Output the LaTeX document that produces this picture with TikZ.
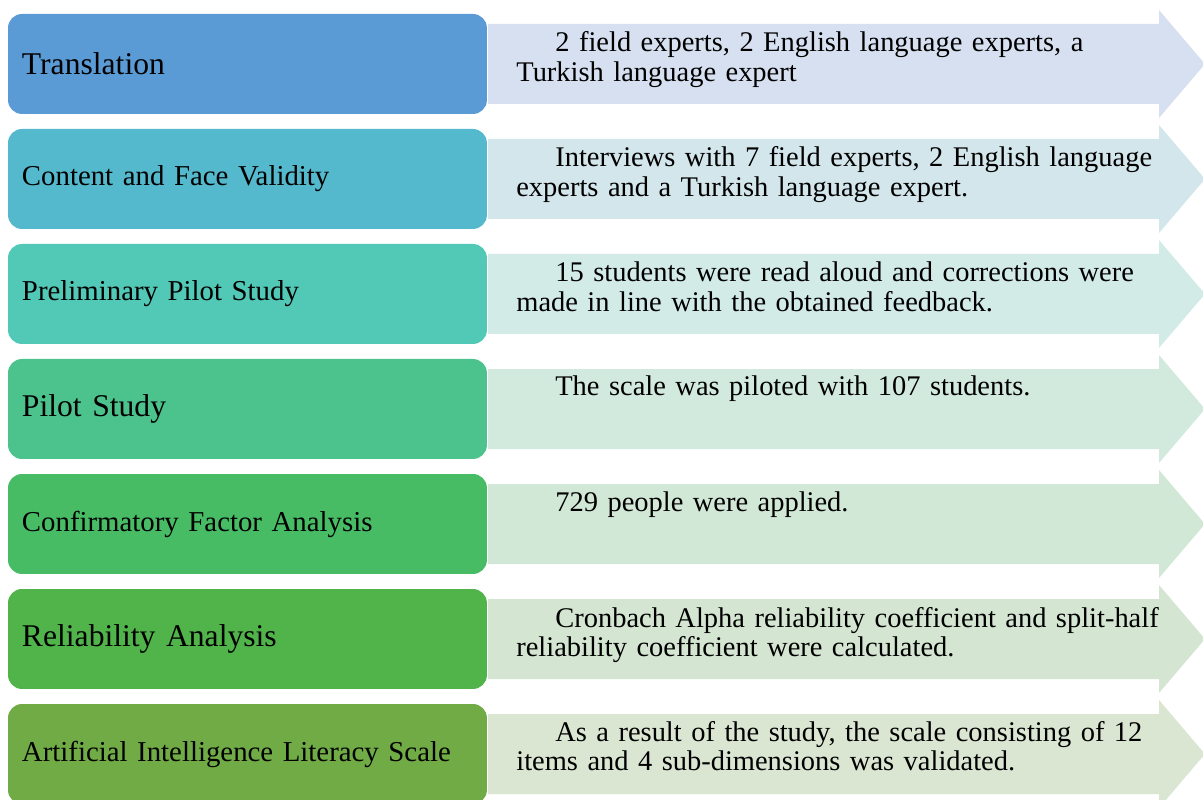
\documentclass[tikz,border=0pt]{standalone}
\usepackage{fontspec}
\setmainfont{Liberation Serif}
\definecolor{boxA}{RGB}{91,155,213}
\definecolor{boxB}{RGB}{84,185,205}
\definecolor{boxC}{RGB}{82,200,183}
\definecolor{boxD}{RGB}{76,195,140}
\definecolor{boxE}{RGB}{72,188,100}
\definecolor{boxF}{RGB}{80,180,74}
\definecolor{boxG}{RGB}{112,171,70}
\definecolor{arrA}{RGB}{214,224,240}
\definecolor{arrB}{RGB}{211,230,236}
\definecolor{arrC}{RGB}{211,235,231}
\definecolor{arrD}{RGB}{210,234,222}
\definecolor{arrE}{RGB}{210,232,214}
\definecolor{arrF}{RGB}{212,230,210}
\definecolor{arrG}{RGB}{218,230,210}

\begin{document}
\begin{tikzpicture}[line cap=round,line join=round,x=0.02cm,y=-0.02cm,
    stagebox/.style={rectangle,rounded corners=0.28cm,anchor=north west,outer sep=0pt,
        minimum width=9.58cm,minimum height=2cm,inner xsep=0.28cm,text width=9.02cm,align=left},
    bigname/.style={font=\fontsize{18}{20}\selectfont},
    smallname/.style={font=\fontsize{16.4}{19}\selectfont},
    stagetext/.style={anchor=base west,inner sep=0pt,text width=13.2cm,align=left,
        font=\fontsize{16.2}{17}\selectfont}]
    \useasboundingbox (0,0) rectangle (1203,800);
    % arrows on the right
    \fill[arrA] (488,24) -- (1159,24) -- (1159,10) -- (1205,64) -- (1159,118) -- (1159,104) -- (488,104) -- cycle;
    \fill[arrB] (488,139) -- (1159,139) -- (1159,125) -- (1205,179) -- (1159,233) -- (1159,219) -- (488,219) -- cycle;
    \fill[arrC] (488,254) -- (1159,254) -- (1159,240) -- (1205,294) -- (1159,348) -- (1159,334) -- (488,334) -- cycle;
    \fill[arrD] (488,369) -- (1159,369) -- (1159,355) -- (1205,409) -- (1159,463) -- (1159,449) -- (488,449) -- cycle;
    \fill[arrE] (488,484) -- (1159,484) -- (1159,470) -- (1205,524) -- (1159,578) -- (1159,564) -- (488,564) -- cycle;
    \fill[arrF] (488,599) -- (1159,599) -- (1159,585) -- (1205,639) -- (1159,693) -- (1159,679) -- (488,679) -- cycle;
    \fill[arrG] (488,714) -- (1159,714) -- (1159,700) -- (1205,754) -- (1159,808) -- (1159,794) -- (488,794) -- cycle;
    % stage boxes
    \node[stagebox,bigname,fill=boxA] (translation) at (8,14) {Translation};
    \node[stagebox,smallname,fill=boxB] (validity) at (8,129) {Content and Face Validity};
    \node[stagebox,smallname,fill=boxC] (prepilot) at (8,244) {Preliminary Pilot Study};
    \node[stagebox,bigname,fill=boxD] (pilot) at (8,359) {Pilot Study};
    \node[stagebox,smallname,fill=boxE] (cfa) at (8,474) {Confirmatory Factor Analysis};
    \node[stagebox,bigname,fill=boxF] (reliability) at (8,589) {Reliability Analysis};
    \node[stagebox,smallname,fill=boxG] (aiscale) at (8,704) {Artificial Intelligence Literacy Scale};
    % texts in the arrows
    \node[stagetext] (translationtxt) at (516,52) {\hspace*{0.78cm}2 field experts, 2 English language experts, a\\Turkish language expert};
    \node[stagetext] (validitytxt) at (516,167) {\hspace*{0.78cm}Interviews with 7 field experts, 2 English language\\experts and a Turkish language expert.};
    \node[stagetext] (prepilottxt) at (516,282) {\hspace*{0.78cm}15 students were read aloud and corrections were\\made in line with the obtained feedback.};
    \node[stagetext] (pilottxt) at (516,396) {\hspace*{0.78cm}The scale was piloted with 107 students.};
    \node[stagetext] (cfatxt) at (516,511) {\hspace*{0.78cm}729 people were applied.};
    \node[stagetext] (reliabilitytxt) at (516,627) {\hspace*{0.78cm}Cronbach Alpha reliability coefficient and split-half\\reliability coefficient were calculated.};
    \node[stagetext] (aiscaletxt) at (516,741) {\hspace*{0.78cm}As a result of the study, the scale consisting of 12\\items and 4 sub-dimensions was validated.};
\end{tikzpicture}
\end{document}
